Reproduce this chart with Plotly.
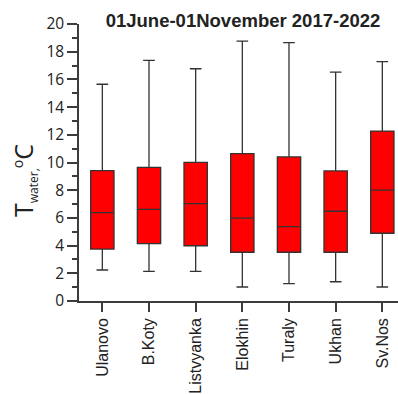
import plotly.graph_objects as go

# Summary statistics of water temperature (°C) per station
stations = ["Ulanovo", "B.Koty", "Listvyanka", "Elokhin", "Turaly", "Ukhan", "Sv.Nos"]
lower_whisker = [2.24, 2.14, 2.14, 1.01, 1.25, 1.39, 1.01]
q1_values = [3.75, 4.14, 3.99, 3.52, 3.52, 3.52, 4.89]
median_values = [6.38, 6.62, 7.03, 5.99, 5.37, 6.48, 8.01]
q3_values = [9.41, 9.65, 10.01, 10.64, 10.40, 9.39, 12.27]
upper_whisker = [15.65, 17.38, 16.77, 18.77, 18.65, 16.53, 17.28]

y_tick_values = [0, 2, 4, 6, 8, 10, 12, 14, 16, 18, 20]

axis_color = "#3c3c3c"

fig = go.Figure()
fig.add_trace(go.Box(
    x=stations,
    q1=q1_values,
    median=median_values,
    q3=q3_values,
    lowerfence=lower_whisker,
    upperfence=upper_whisker,
    fillcolor="#ff0000",
    line=dict(color="#333333", width=1.3),
    width=0.5,
    whiskerwidth=0.5,
    boxpoints=False,
    showlegend=False,
))

fig.update_layout(
    width=398,
    height=394,
    margin=dict(l=79, r=0, t=24, b=93),
    paper_bgcolor="white",
    plot_bgcolor="white",
    title=dict(
        text="<b>01June-01November 2017-2022</b>",
        font=dict(family="Liberation Sans, Arial", size=18.5, color="#222222"),
        x=243 / 398, xref="container", xanchor="center",
        y=1 - 21 / 394, yref="container", yanchor="middle",
    ),
    xaxis=dict(
        range=[-0.5, 6.336],
        showline=True, linecolor=axis_color, linewidth=1.5,
        ticks="outside", ticklen=9, tickwidth=1.5, tickcolor=axis_color,
        tickangle=-90,
        tickfont=dict(family="Liberation Sans, Arial", size=16, color="#222222"),
        showgrid=False, zeroline=False,
    ),
    yaxis=dict(
        range=[0, 20],
        tickvals=y_tick_values,
        showline=True, linecolor=axis_color, linewidth=1.5,
        ticks="outside", ticklen=10, tickwidth=1.5, tickcolor=axis_color,
        minor=dict(dtick=1, ticks="outside", ticklen=5, tickwidth=1.5, tickcolor=axis_color),
        tickfont=dict(family="Open Sans", size=15.5, color="#222222"),
        showgrid=False, zeroline=False,
    ),
    annotations=[dict(
        text=('T<sub><span style="font-size:12px">water,</span></sub>'
              '<sup><span style="font-size:14px">o</span></sup>C'),
        textangle=-90,
        xref="paper", yref="paper",
        x=(24 - 79) / 319, y=(301 - 180) / 277,
        xanchor="center", yanchor="middle",
        showarrow=False,
        font=dict(family="Open Sans", size=25, color="#222222"),
    )],
)

fig.write_html("out.html")
